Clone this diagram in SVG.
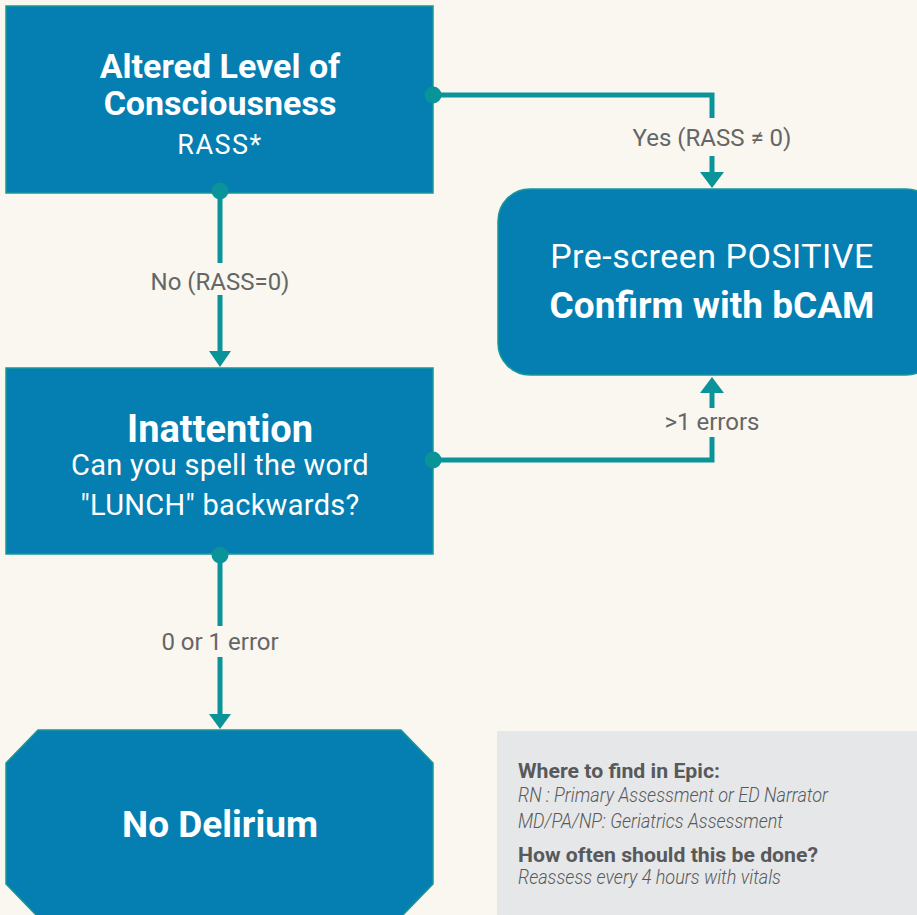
<svg xmlns="http://www.w3.org/2000/svg" width="917" height="915" viewBox="0 0 917 915">
<defs>
<style>
.node{fill:#057EB1;stroke:#17989B;stroke-width:1.5}
.t{font-family:Roboto,"Liberation Sans",sans-serif;fill:#FFFFFF;text-anchor:middle}
.b{font-weight:bold}
.conn{fill:none;stroke:#0A9499;stroke-width:5}
.dot{fill:#0A9499}
.arr{fill:#0A9499}
.lbl{font-family:Roboto,"Liberation Sans",sans-serif;fill:#666666;font-size:24px;text-anchor:middle}
.info{font-family:Roboto,"Liberation Sans",sans-serif;fill:#58595B}
</style>
</defs>
<rect width="917" height="915" fill="#F9F7F0"/>
<g id="connectors">
<path class="conn" d="M433,95 H712 V118"/>
<path class="conn" d="M712,156 V174"/>
<polygon class="arr" points="700,172 724,172 712,188"/>
<path class="conn" d="M220,190 V263"/>
<path class="conn" d="M220,295 V354"/>
<polygon class="arr" points="209,351 231,351 220,367"/>
<path class="conn" d="M433,460 H712 V437"/>
<path class="conn" d="M712,408 V391"/>
<polygon class="arr" points="700,393 724,393 712,377"/>
<path class="conn" d="M220,555 V626"/>
<path class="conn" d="M220,657 V716"/>
<polygon class="arr" points="209,714 231,714 220,729"/>
<text class="lbl" x="712" y="146">Yes (RASS ≠ 0)</text>
<text class="lbl" x="220" y="290">No (RASS=0)</text>
<text class="lbl" x="712" y="430">&gt;1 errors</text>
<text class="lbl" x="220" y="650">0 or 1 error</text>
</g>
<g id="node-altered">
<rect class="node" x="6" y="6" width="427" height="187"/>
<text class="t b" x="220" y="78" font-size="34">Altered Level of</text>
<text class="t b" x="220" y="115" font-size="34">Consciousness</text>
<text class="t" x="220" y="154" font-size="27" letter-spacing="1.5">RASS*</text>
</g>
<g id="node-positive">
<rect class="node" x="498" y="189" width="440" height="186" rx="32" ry="32"/>
<text class="t" x="712" y="268" font-size="34" letter-spacing="0.5">Pre-screen POSITIVE</text>
<text class="t b" x="712" y="318" font-size="37">Confirm with bCAM</text>
</g>
<g id="node-inattention">
<rect class="node" x="6" y="368" width="427" height="186"/>
<text class="t b" x="220" y="442" font-size="38">Inattention</text>
<text class="t" x="220" y="475" font-size="29" letter-spacing="0.3">Can you spell the word</text>
<text class="t" x="220" y="515" font-size="29" letter-spacing="0.3">"LUNCH" backwards?</text>
</g>
<g id="node-nodelirium">
<polygon class="node" points="38,730 401,730 433,763 433,884 401,917 38,917 6,884 6,763"/>
<text class="t b" x="220" y="837" font-size="37">No Delirium</text>
</g>
<g id="node-info">
<rect x="497" y="731" width="430" height="200" fill="#E6E7E8"/>
<text class="info" x="518" y="778" font-size="20" font-weight="bold" textLength="202" lengthAdjust="spacingAndGlyphs">Where to find in Epic:</text>
<text class="info" x="518" y="802" font-size="20" font-style="italic" font-weight="300" textLength="310" lengthAdjust="spacingAndGlyphs">RN : Primary Assessment or ED Narrator</text>
<text class="info" x="518" y="828" font-size="20" font-style="italic" font-weight="300" textLength="265" lengthAdjust="spacingAndGlyphs">MD/PA/NP: Geriatrics Assessment</text>
<text class="info" x="518" y="862" font-size="20" font-weight="bold" textLength="300" lengthAdjust="spacingAndGlyphs">How often should this be done?</text>
<text class="info" x="518" y="884" font-size="20" font-style="italic" font-weight="300" textLength="263" lengthAdjust="spacingAndGlyphs">Reassess every 4 hours with vitals</text>
</g>
<g id="dots">
<circle class="dot" cx="433" cy="95" r="8.5"/>
<circle class="dot" cx="220" cy="191" r="8.5"/>
<circle class="dot" cx="433" cy="460" r="8.5"/>
<circle class="dot" cx="220" cy="555" r="8.5"/>
</g>
</svg>
